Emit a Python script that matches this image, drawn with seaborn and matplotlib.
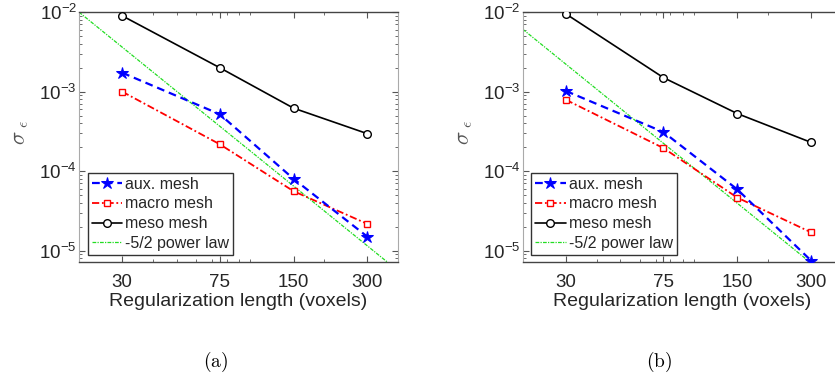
import matplotlib
matplotlib.use("Agg")
import matplotlib.pyplot as plt
import matplotlib.ticker as mticker
import seaborn as sns
import pandas as pd

# ---------------- data ----------------
reg_length = [30, 75, 150, 300]
x_ticks = [30, 75, 150, 300]
x_tick_labels = ["30", "75", "150", "300"]
y_ticks = [1e-5, 1e-4, 1e-3, 1e-2]

aux_a = [1.73e-3, 5.2e-4, 8.0e-5, 1.5e-5]
macro_a = [1.0e-3, 2.18e-4, 5.6e-5, 2.17e-5]
meso_a = [9.0e-3, 2.0e-3, 6.2e-4, 2.96e-4]
law_x = [20, 400]
law_a = [1.0e-2, 5.6e-6]

aux_b = [1.02e-3, 3.1e-4, 5.9e-5, 7.5e-6]
macro_b = [7.9e-4, 1.95e-4, 4.65e-5, 1.7e-5]
meso_b = [9.5e-3, 1.5e-3, 5.3e-4, 2.3e-4]
law_b = [6.1e-3, 3.4e-6]

labels = ["aux. mesh", "macro mesh", "meso mesh", "-5/2 power law"]
panel_names = ["(a)", "(b)"]
xlabel = "Regularization length (voxels)"
ylabel = r"$\sigma_{\ \epsilon}$"

# ---------------- style ----------------
sns.set_style("ticks")
plt.rcParams["font.family"] = ["Liberation Sans", "DejaVu Sans"]
plt.rcParams["mathtext.fontset"] = "custom"
plt.rcParams["mathtext.rm"] = "Liberation Sans"
plt.rcParams["mathtext.it"] = "Liberation Sans:italic"
plt.rcParams["mathtext.bf"] = "Liberation Sans:bold"

fig = plt.figure(figsize=(8.35, 3.78), dpi=100)
ax_a = fig.add_axes([0.0946, 0.3069, 0.382, 0.661])
ax_b = fig.add_axes([0.626, 0.3069, 0.382, 0.661])

TXT = "#262626"


def draw(ax, aux, macro, meso, law, name):
    df_aux = pd.DataFrame({"L": reg_length, "s": aux})
    df_mac = pd.DataFrame({"L": reg_length, "s": macro})
    df_mes = pd.DataFrame({"L": reg_length, "s": meso})
    df_law = pd.DataFrame({"L": law_x, "s": law})

    sns.lineplot(data=df_aux, x="L", y="s", ax=ax, color="#0000ff",
                 linestyle=(0, (3.5, 2.2)), linewidth=1.6, marker="*",
                 markersize=9, markeredgecolor="#0000ff",
                 markerfacecolor="#0000ff", label=labels[0], zorder=4)
    sns.lineplot(data=df_mac, x="L", y="s", ax=ax, color="#ff0000",
                 linestyle=(0, (4, 1.5, 1, 1.5)), linewidth=1.3, marker="s",
                 markersize=5, markeredgecolor="#ff0000",
                 markerfacecolor="white", markeredgewidth=1.0,
                 label=labels[1], zorder=3)
    sns.lineplot(data=df_mes, x="L", y="s", ax=ax, color="black",
                 linestyle="-", linewidth=1.2, marker="o",
                 markersize=5.5, markeredgecolor="black",
                 markerfacecolor="white", markeredgewidth=1.0,
                 label=labels[2], zorder=3)
    sns.lineplot(data=df_law, x="L", y="s", ax=ax, color="#22dd22",
                 linestyle=(0, (3, 1, 1, 1)), linewidth=0.9,
                 label=labels[3], zorder=2)

    ax.set_xscale("log")
    ax.set_yscale("log")
    ax.set_xlim(20, 400)
    ax.set_ylim(7.2e-6, 1e-2)

    ax.xaxis.set_major_locator(mticker.FixedLocator(x_ticks))
    ax.xaxis.set_major_formatter(mticker.FixedFormatter(x_tick_labels))
    ax.xaxis.set_minor_locator(mticker.LogLocator(base=10, subs=range(1, 10)))
    ax.xaxis.set_minor_formatter(mticker.NullFormatter())
    ax.yaxis.set_major_locator(mticker.FixedLocator(y_ticks))
    ax.yaxis.set_major_formatter(mticker.LogFormatterSciNotation())
    ax.yaxis.set_minor_locator(mticker.LogLocator(base=10, subs=range(2, 10)))
    ax.yaxis.set_minor_formatter(mticker.NullFormatter())

    ax.tick_params(axis="both", which="both", direction="in",
                   top=True, right=True, colors="#555555", labelcolor=TXT)
    ax.tick_params(axis="both", which="major", length=4, width=0.8,
                   labelsize=13.5)
    ax.tick_params(axis="both", which="minor", length=2.5, width=0.6)
    ax.tick_params(axis="x", which="major", pad=9)
    ax.tick_params(axis="y", which="major", pad=1.5)

    for side in ["top", "bottom"]:
        ax.spines[side].set_color("#444444")
        ax.spines[side].set_linewidth(1.0)
    for side in ["left", "right"]:
        ax.spines[side].set_color("#aaaaaa")
        ax.spines[side].set_linewidth(0.8)

    ax.set_xlabel(xlabel, fontsize=14, color=TXT)
    ax.xaxis.set_label_coords(0.5, -0.125)
    ax.set_ylabel(ylabel, fontsize=16, color="#555555",
                  math_fontfamily="cm", rotation=90)
    ax.yaxis.set_label_coords(-0.15, 0.52)

    leg = ax.legend(loc="lower left", bbox_to_anchor=(0.027, 0.028),
                    borderaxespad=0, fontsize=11.5, frameon=True,
                    fancybox=False, handlelength=1.9, handletextpad=0.2,
                    labelspacing=0.3, borderpad=0.25)
    frame = leg.get_frame()
    frame.set_edgecolor("#333333")
    frame.set_linewidth(1.0)
    frame.set_facecolor("white")
    frame.set_alpha(1.0)
    for t in leg.get_texts():
        t.set_color(TXT)


draw(ax_a, aux_a, macro_a, meso_a, law_a, panel_names[0])
draw(ax_b, aux_b, macro_b, meso_b, law_b, panel_names[1])

fig.text(216 / 835, 1 - 362 / 378, r"$\mathrm{" + panel_names[0] + "}$",
         math_fontfamily="cm", ha="center", va="center", fontsize=14,
         color="black")
fig.text(659 / 835, 1 - 362 / 378, r"$\mathrm{" + panel_names[1] + "}$",
         math_fontfamily="cm", ha="center", va="center", fontsize=14,
         color="black")

fig.savefig("out.png", dpi=100)
